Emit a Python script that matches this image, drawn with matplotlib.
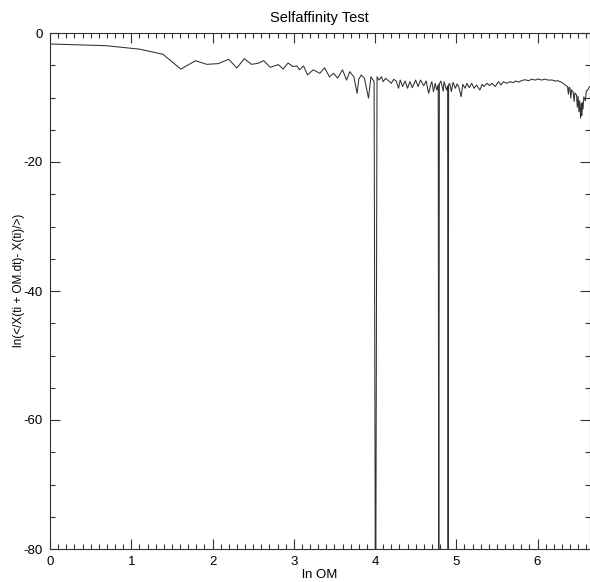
import matplotlib
matplotlib.use("Agg")
import matplotlib.pyplot as plt
from matplotlib.ticker import MultipleLocator

plt.rcParams['font.family'] = ['Liberation Sans', 'DejaVu Sans']
plt.rcParams['axes.unicode_minus'] = False

# traced data: x = ln OM, y = ln(<|X(ti+OM.dt) - X(ti)|>)
ln_om = [
    0.00, 0.69, 1.10, 1.39, 1.61, 1.79, 1.93, 2.07, 2.20, 2.30, 2.39, 2.48, 2.56, 2.63,
    2.71, 2.81, 2.87, 2.93, 2.99, 3.04, 3.07, 3.12, 3.17, 3.24, 3.32, 3.38, 3.44, 3.49,
    3.54, 3.60, 3.65, 3.69, 3.74, 3.78, 3.80, 3.83, 3.87, 3.92, 3.95, 3.989, 4.007, 4.025,
    4.05, 4.08, 4.10, 4.13, 4.17, 4.20, 4.23, 4.26, 4.29, 4.31, 4.34, 4.37, 4.40, 4.43,
    4.46, 4.50, 4.53, 4.56, 4.60, 4.63, 4.66, 4.69, 4.70, 4.72, 4.74, 4.76, 4.778, 4.785,
    4.792, 4.81, 4.84, 4.85, 4.88, 4.894, 4.90, 4.906, 4.92, 4.94, 4.96, 4.99, 5.01, 5.03,
    5.06, 5.08, 5.11, 5.13, 5.16, 5.19, 5.22, 5.25, 5.29, 5.32, 5.34, 5.38, 5.41, 5.44,
    5.48, 5.52, 5.55, 5.58, 5.62, 5.66, 5.70, 5.73, 5.77, 5.81, 5.85, 5.89, 5.93, 5.97,
    6.01, 6.05, 6.09, 6.13, 6.18, 6.22, 6.25, 6.28, 6.31, 6.34, 6.37, 6.38, 6.39, 6.40,
    6.41, 6.42, 6.44, 6.45, 6.46, 6.48, 6.49, 6.50, 6.51, 6.52, 6.53, 6.54, 6.545, 6.55,
    6.56, 6.57, 6.59, 6.60, 6.62, 6.64,
]
ln_diff = [
    -1.70, -1.97, -2.50, -3.30, -5.60, -4.30, -4.86, -4.75, -4.08, -5.43, -3.98, -4.86, -4.70, -4.29,
    -5.32, -4.90, -5.60, -4.65, -5.20, -5.10, -5.70, -5.10, -6.50, -5.70, -6.25, -5.40, -6.80, -6.25,
    -7.00, -5.70, -7.30, -6.00, -6.80, -9.35, -7.20, -6.51, -7.00, -10.10, -6.78, -7.55, -100.0, -6.78,
    -7.29, -6.78, -7.55, -7.03, -7.44, -7.80, -7.18, -7.44, -8.57, -7.29, -8.30, -7.44, -8.57, -7.55,
    -8.47, -7.29, -8.30, -7.29, -8.16, -7.44, -9.35, -7.80, -7.55, -9.10, -7.80, -8.84, -8.0, -100.0,
    -7.9, -7.44, -9.00, -7.55, -8.84, -8.2, -100.0, -8.0, -7.80, -9.10, -7.65, -8.57, -7.9, -8.30,
    -9.87, -7.96, -8.57, -7.80, -8.47, -7.80, -8.57, -8.06, -8.84, -7.96, -8.30, -7.80, -8.16, -7.80,
    -8.30, -7.55, -8.06, -7.55, -7.80, -7.55, -7.70, -7.45, -7.60, -7.35, -7.25, -7.40, -7.15, -7.30,
    -7.13, -7.30, -7.15, -7.30, -7.29, -7.45, -7.40, -7.55, -7.75, -8.06, -8.30, -9.50, -8.40, -8.60,
    -10.10, -8.80, -9.20, -10.60, -9.30, -9.60, -11.50, -9.80, -12.20, -10.50, -13.20, -11.00, -12.80, -10.80,
    -11.80, -9.90, -10.50, -9.00, -8.80, -8.30,
]

x_ticks = [0, 1, 2, 3, 4, 5, 6]
y_ticks = [0, -20, -40, -60, -80]

fig = plt.figure(figsize=(5.9, 5.82), dpi=100)
ax = fig.add_axes([50 / 590, 1 - 549 / 582, (589.5 - 50) / 590, (549 - 33) / 582])

ax.plot(ln_om, ln_diff, color='#303030', linewidth=0.75)

ax.set_xlim(0, 6.64)
ax.set_ylim(-80, 0)
ax.set_xticks(x_ticks)
ax.set_yticks(y_ticks)
ax.xaxis.set_minor_locator(MultipleLocator(0.1))
ax.yaxis.set_minor_locator(MultipleLocator(5))
ax.tick_params(which='both', direction='in', top=True, right=True, width=0.8,
               color='#333333', labelsize=9.5, pad=5)
ax.tick_params(which='major', length=7.5)
ax.tick_params(which='minor', length=3.7)
for s in ax.spines.values():
    s.set_linewidth(0.8)
    s.set_color('#333333')

ax.set_title('Selfaffinity Test', fontsize=10.5, pad=8)
ax.set_xlabel('ln OM', fontsize=9.5, labelpad=1)
ax.set_ylabel('ln(</X(ti + OM.dt)- X(ti)/>)', fontsize=8.5)
ax.yaxis.set_label_coords(-0.046, 0.52)

fig.savefig('out.png', dpi=100)
